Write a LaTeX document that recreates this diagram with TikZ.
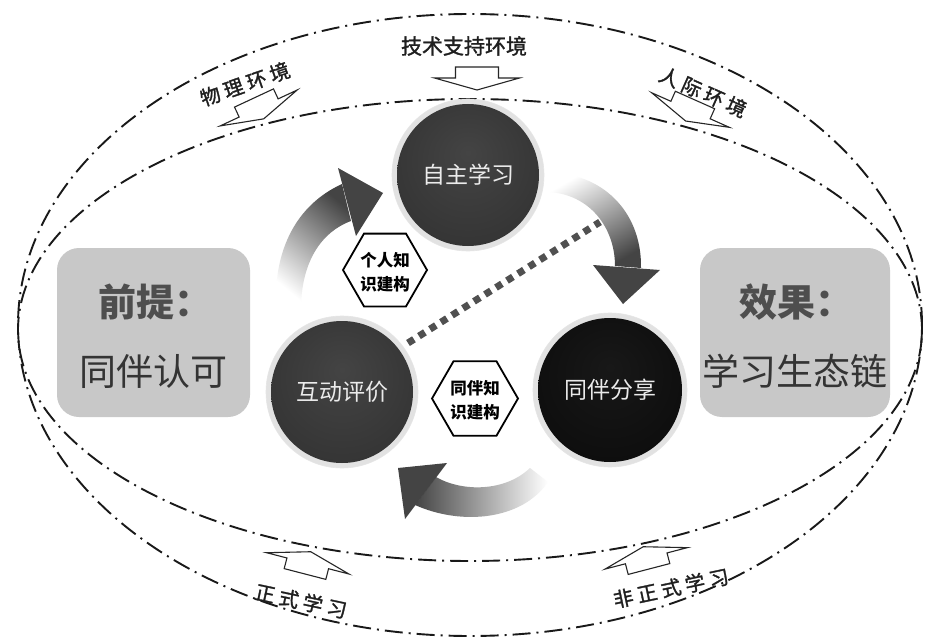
\documentclass[tikz,border=0pt]{standalone}
\usepackage{fontspec}
\setmainfont{Noto Sans CJK SC}
\newfontfamily\labfont{Noto Sans CJK SC}[FakeBold=1.4]
\newfontfamily\labfontsp{Noto Sans CJK SC}[FakeBold=1.4, LetterSpace=22]
\definecolor{ringc}{RGB}{226,226,226}
\definecolor{boxc}{RGB}{200,200,200}
\definecolor{boxtxt}{RGB}{52,52,52}
\definecolor{titletxt}{RGB}{78,78,78}
\definecolor{arrowdark}{RGB}{68,68,68}
\definecolor{dotc}{RGB}{80,80,80}
\definecolor{gA}{RGB}{68,68,68}
\definecolor{gB}{RGB}{50,50,50}
\definecolor{gC}{RGB}{115,115,115}
\definecolor{gD}{RGB}{38,38,38}
\definecolor{kA}{RGB}{24,24,24}
\definecolor{kB}{RGB}{12,12,12}
\definecolor{kC}{RGB}{85,85,85}
\definecolor{kD}{RGB}{8,8,8}
\pgfdeclareradialshading{graybtn}{\pgfpoint{0bp}{8bp}}{color(0bp)=(gA); color(34bp)=(gB); color(42bp)=(gC); color(47bp)=(gB); color(50bp)=(gD)}
\pgfdeclareradialshading{blackbtn}{\pgfpoint{0bp}{8bp}}{color(0bp)=(kA); color(34bp)=(kB); color(42bp)=(kC); color(47bp)=(kB); color(50bp)=(kD)}
\tikzset{flatarrow/.pic={\path[flat] (-21.5,0) -- (21.5,0) -- (21.5,11) -- (42.5,11) -- (0,23) -- (-42.5,11) -- (-21.5,11) -- cycle;}}
\begin{document}
\begin{tikzpicture}[x=1pt,y=-1pt,
  ell/.style={line width=1.9pt, black!90, dash pattern=on 18pt off 6pt on 2pt off 6pt},
  flat/.style={draw=black!85, line width=1.1pt, fill=white, line join=miter},
  envlabel/.style={font=\labfont\fontsize{21}{23}\selectfont, text=black!88, inner sep=0pt},
  envlabelsp/.style={font=\labfontsp\fontsize{20}{22}\selectfont, text=black!88, inner sep=0pt},
  boxstyle/.style={fill=boxc, rounded corners=22pt, inner sep=0pt},
  boxbig/.style={font=\fontsize{37}{40}\selectfont, text=boxtxt, inner sep=0pt},
  boxtitle/.style={font=\fontsize{38}{40}\selectfont\bfseries, text=titletxt, inner sep=0pt},
  btnring/.style={circle, fill=ringc, draw=black!10, line width=0.6pt, minimum size=152pt, inner sep=0pt},
  btntext/.style={font=\fontsize{23}{25}\selectfont, text=white!92!black, inner sep=0pt},
  hexline/.style={draw=black, line width=1.8pt, fill=white, line join=miter},
  hextext/.style={font=\fontsize{16.5}{24}\selectfont\bfseries, align=center, text=black, inner sep=0pt},
  dotline/.style={dotc, line width=7pt, dash pattern=on 7pt off 6pt},
  headfill/.style={fill=arrowdark},
]
\useasboundingbox (0,0) rectangle (930,642);
\fill[white] (0,0) rectangle (930,642);

% environment ellipses
\draw[ell] (470,325) ellipse [x radius=452pt, y radius=311pt];
\draw[ell] (470,330) ellipse [x radius=452pt, y radius=231pt];

% environment labels and flat arrows
\node[envlabel] (tech) at (464,46) {技术支持环境};
\pic at (477,67) {flatarrow};
\node[envlabelsp, rotate=19] (phys) at (245,84) {物理环境};
\pic[rotate=25] at (254,98) {flatarrow};
\node[envlabelsp, rotate=-24] (inter) at (703,92) {人际环境};
\pic[rotate=-24] at (695,100) {flatarrow};
\node[envlabelsp, rotate=-12] (formal) at (301,601) {正式学习};
\pic[rotate=165.5] at (305,574) {flatarrow};
\node[envlabelsp, rotate=12] (informal) at (671,588) {非正式学习};
\pic[rotate=194.6] at (649,569) {flatarrow};

% side boxes
\node[boxstyle, minimum width=193pt, minimum height=169pt] (prem) at (153.5,332.5) {};
\node[boxtitle] (premT) at (155,302) {前提：};
\node[boxbig] (premB) at (153,371) {同伴认可};
\node[boxstyle, minimum width=190pt, minimum height=169pt] (eff) at (795,332.5) {};
\node[boxtitle] (effT) at (796,302) {效果：};
\node[boxbig] (effB) at (795,371) {学习生态链};

% gradient cycle arrows
\shade[top color=arrowdark, bottom color=white, shading angle=-40] (276,306) .. controls (274,250) and (296,205) .. (342,184) -- (351,221) .. controls (321,232) and (302,262) .. (301,306) -- cycle;
\fill[headfill] (338,168) -- (383,193) -- (356,236) -- cycle;
\shade[top color=white, bottom color=arrowdark, shading angle=30] (548,173) .. controls (600,172) and (642,210) .. (641,268) -- (615,266) .. controls (615,228) and (590,194) .. (548,192) -- cycle;
\fill[headfill] (593,265) -- (660,270) -- (623,304) -- cycle;
\shade[left color=arrowdark, right color=white] (436,477) .. controls (462,492) and (505,492) .. (530,468) -- (548,482) .. controls (522,520) and (462,526) .. (415,505) -- cycle;
\fill[headfill] (447,463) -- (398,468) -- (405,519) -- cycle;

% dotted link
\coordinate (dotS) at (408,343);
\coordinate (dotE) at (600,222);
\draw[dotline] (dotS) -- (dotE);

% buttons
\node[btnring] (selfR) at (468,175) {};
\shade[shading=graybtn] (selfR.center) circle [radius=71pt];
\node[btntext] (self) at (selfR.center) {自主学习};
\node[btnring] (evalR) at (342,392) {};
\shade[shading=graybtn] (evalR.center) circle [radius=71pt];
\node[btntext] (eval) at (evalR.center) {互动评价};
\node[btnring, minimum size=154pt] (shareR) at (610,390) {};
\shade[shading=blackbtn] (shareR.center) circle [radius=72pt];
\node[btntext] (share) at (shareR.center) {同伴分享};

% hexagons
\coordinate (hexAc) at (385,270);
\draw[hexline] (hexAc) ++(-42,0) -- ++(21,-36.4) -- ++(42,0) -- ++(21,36.4) -- ++(-21,36.4) -- ++(-42,0) -- cycle;
\node[hextext] (hexA) at (385,272) {个人知\\识建构};
\coordinate (hexBc) at (475,398.5);
\draw[hexline] (hexBc) ++(-43,0) -- ++(21.5,-37.2) -- ++(43,0) -- ++(21.5,37.2) -- ++(-21.5,37.2) -- ++(-43,0) -- cycle;
\node[hextext] (hexB) at (475,400) {同伴知\\识建构};
\end{tikzpicture}
\end{document}
